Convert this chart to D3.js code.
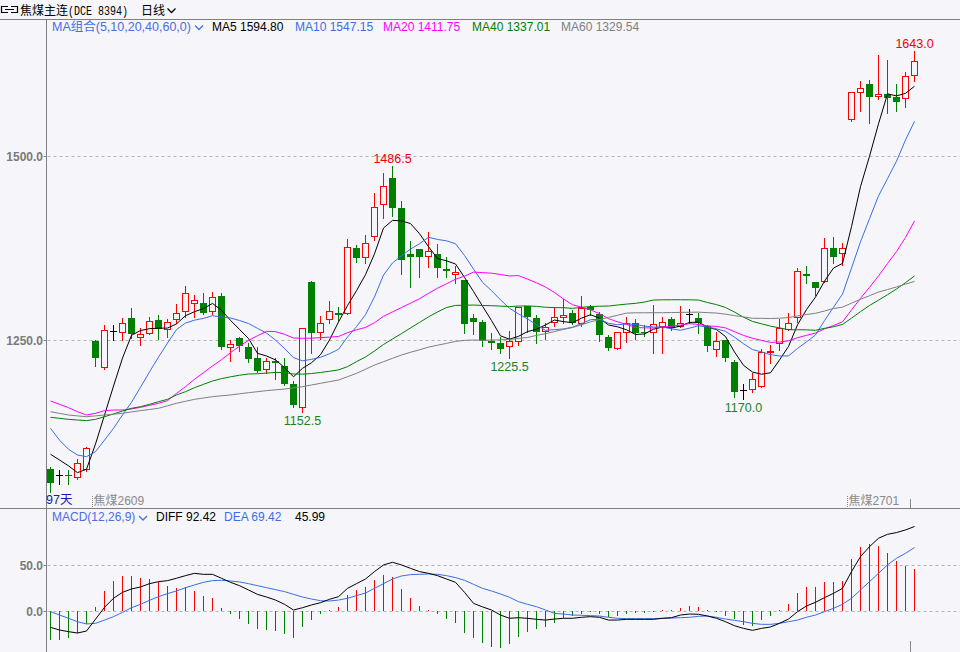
<!DOCTYPE html>
<html>
<head>
<meta charset="utf-8">
<script src="https://cdn.jsdelivr.net/npm/d3@7"></script>
<style>
  html, body { margin: 0; padding: 0; background: #f5f5fa; }
  svg { display: block; font-family: "Liberation Sans", Arial, "Noto Sans CJK SC", sans-serif; }
</style>
</head>
<body>
<div class="canvas"></div>
<script>
// daily bars, oldest first
const opens = [1074.3,1066.6,1066.6,1064.3,1074.3,1248.7,1213.8,1262.2,1260.4,1279.4,
  1254.5,1259.1,1276.7,1265.0,1279.0,1289.9,1300.7,1299.8,1289.9,1309.8,
  1240.9,1252.3,1240.0,1225.1,1210.1,1221.5,1214.7,1190.2,1159.4,1329.3,
  1260.4,1278.1,1286.7,1287.1,1374.5,1362.3,1391.3,1434.3,1469.7,1428.9,
  1366.8,1373.6,1364.6,1366.8,1346.5,1339.2,1331.5,1279.4,1274.9,1248.7,
  1245.5,1241.9,1248.7,1296.2,1280.4,1262.2,1274.9,1280.8,1287.1,1272.7,
  1295.3,1285.3,1253.6,1238.7,1260.4,1272.7,1261.3,1261.3,1269.5,1278.1,
  1269.5,1284.8,1279.4,1269.0,1237.3,1250.0,1220.5,1182.0,1182.9,1187.5,
  1234.0,1245.5,1264.5,1280.8,1339.2,1329.3,1330.2,1374.6,1367.8,1549.8,
  1586.5,1597.8,1581.5,1583.8,1580.6,1578.4,1610.1];
const highs = [1077.0,1074.0,1073.0,1087.9,1104.0,1250.0,1270.4,1270.4,1279.4,1293.0,
  1265.9,1280.8,1284.0,1278.1,1298.9,1323.4,1311.1,1313.4,1314.8,1313.4,
  1250.0,1254.5,1245.5,1240.0,1225.1,1225.1,1225.1,1194.8,1265.9,1330.6,
  1282.6,1303.0,1295.3,1386.8,1379.1,1392.6,1450.2,1476.4,1486.5,1439.3,
  1384.5,1373.6,1397.2,1380.4,1362.3,1350.5,1331.5,1285.3,1277.0,1259.1,
  1253.6,1262.2,1294.4,1296.2,1284.0,1273.6,1294.4,1305.3,1290.8,1309.8,
  1297.6,1288.5,1256.8,1261.3,1280.8,1278.1,1270.0,1297.5,1281.7,1281.7,
  1296.2,1291.6,1286.2,1270.4,1261.3,1250.0,1222.8,1190.2,1204.7,1237.8,
  1243.2,1278.1,1286.2,1347.4,1350.5,1329.3,1388.1,1390.4,1381.3,1587.4,
  1601.9,1603.3,1637.2,1630.4,1597.8,1614.6,1643.0];
const lows = [1043.5,1054.0,1054.0,1060.7,1072.0,1214.7,1210.1,1250.0,1250.0,1252.3,
  1243.2,1258.0,1251.4,1253.6,1272.7,1280.8,1280.8,1285.3,1285.3,1237.3,
  1221.9,1235.5,1220.6,1207.0,1204.7,1196.6,1188.9,1159.4,1152.5,1232.8,
  1250.9,1272.6,1277.2,1285.3,1356.4,1355.1,1385.9,1415.3,1418.5,1339.7,
  1322.5,1336.0,1348.7,1336.0,1335.1,1327.0,1259.1,1257.7,1241.9,1237.3,
  1232.8,1225.5,1243.2,1261.3,1245.5,1251.4,1269.0,1273.6,1271.7,1269.0,
  1284.0,1249.1,1236.4,1237.3,1247.7,1250.9,1256.0,1232.8,1232.8,1263.6,
  1268.1,1272.6,1260.0,1235.5,1228.2,1221.9,1173.0,1170.0,1180.0,1185.7,
  1219.2,1236.4,1263.6,1274.9,1327.0,1311.1,1329.3,1354.2,1351.9,1548.0,
  1561.2,1545.3,1577.0,1558.0,1561.2,1567.0,1602.4];
const closes = [1055.3,1066.6,1065.0,1082.4,1102.8,1226.0,1263.6,1262.2,1272.7,1257.7,
  1258.2,1276.3,1265.0,1274.0,1286.2,1313.4,1303.9,1286.2,1308.9,1240.0,
  1244.6,1242.3,1224.2,1208.3,1221.9,1218.3,1189.8,1161.7,1265.9,1260.0,
  1272.6,1289.8,1284.4,1376.8,1361.9,1381.3,1431.2,1459.2,1428.9,1358.7,
  1363.2,1362.3,1370.9,1348.3,1343.3,1341.9,1271.3,1274.9,1248.7,1245.5,
  1237.8,1248.7,1294.4,1280.8,1261.3,1267.2,1281.7,1284.0,1272.7,1293.0,
  1290.8,1256.8,1238.7,1260.4,1272.7,1259.1,1260.0,1271.3,1274.9,1265.8,
  1272.6,1284.8,1272.6,1242.3,1248.6,1225.1,1179.8,1182.0,1196.5,1234.1,
  1235.0,1266.8,1273.5,1343.8,1337.4,1320.2,1374.6,1363.2,1374.6,1587.4,
  1592.0,1580.6,1583.8,1578.4,1573.8,1608.7,1629.0];

// moving averages as drawn
const ma5 = [1094.7,1087.0,1079.0,1069.8,1074.4,1108.6,1148.0,1187.4,1225.5,1256.4,
  1262.9,1265.4,1266.0,1266.2,1271.9,1283.0,1288.5,1292.7,1299.7,1290.5,
  1276.7,1264.4,1252.0,1231.9,1228.3,1223.0,1212.5,1200.0,1211.5,1219.1,
  1230.0,1250.0,1274.5,1296.7,1317.1,1338.8,1367.1,1402.1,1412.5,1411.9,
  1408.2,1394.5,1376.8,1360.7,1357.6,1353.3,1335.1,1315.9,1296.0,1276.5,
  1255.6,1251.1,1255.0,1261.4,1264.6,1270.5,1277.1,1275.0,1273.4,1279.7,
  1284.4,1279.5,1270.4,1267.9,1263.9,1257.5,1258.2,1264.7,1267.6,1266.2,
  1268.9,1273.9,1274.1,1267.6,1264.2,1254.7,1233.7,1215.6,1206.4,1203.5,
  1205.5,1222.9,1241.2,1270.6,1291.3,1308.3,1329.9,1347.8,1354.0,1404.0,
  1458.4,1499.6,1543.7,1584.4,1581.7,1585.1,1594.8];
const ma10 = [1130.0,1114.0,1101.5,1093.7,1091.5,1098.3,1114.0,1130.0,1148.1,1165.4,
  1185.8,1206.7,1226.7,1245.9,1264.2,1273.0,1277.0,1279.4,1283.0,1281.2,
  1279.9,1276.5,1272.4,1265.8,1259.4,1249.9,1238.5,1226.0,1221.7,1223.7,
  1226.5,1231.3,1237.3,1254.1,1268.1,1284.4,1308.6,1338.3,1354.6,1364.5,
  1373.5,1380.8,1389.5,1386.6,1384.8,1380.8,1364.8,1346.4,1328.4,1317.1,
  1304.5,1293.1,1285.5,1278.7,1270.6,1263.1,1264.1,1265.0,1267.4,1272.2,
  1277.5,1278.3,1272.7,1270.7,1271.8,1271.0,1268.9,1267.6,1267.8,1265.1,
  1263.2,1266.1,1269.4,1267.6,1265.2,1261.8,1253.8,1244.9,1237.0,1233.9,
  1230.1,1228.3,1228.4,1238.5,1247.4,1256.9,1276.4,1294.5,1312.3,1347.7,
  1383.4,1414.8,1445.8,1469.2,1492.9,1521.8,1547.15];
const ma20 = [1167.1,1162.6,1158.1,1152.6,1148.1,1150.4,1154.0,1154.9,1154.9,1156.3,
  1158.5,1161.2,1164.0,1167.6,1177.5,1186.6,1196.6,1205.6,1214.7,1223.3,
  1232.8,1241.6,1249.5,1255.8,1261.8,1261.4,1257.7,1252.7,1252.3,1252.5,
  1253.2,1253.9,1254.8,1260.0,1263.8,1267.1,1273.5,1282.2,1288.2,1294.1,
  1300.0,1306.0,1313.4,1320.4,1326.4,1332.6,1336.7,1342.3,1341.5,1340.8,
  1339.0,1337.0,1337.5,1332.7,1327.7,1321.9,1314.5,1305.7,1297.9,1294.6,
  1291.0,1285.7,1279.1,1274.7,1271.2,1267.0,1266.5,1266.3,1267.6,1268.6,
  1270.3,1272.2,1271.1,1269.1,1268.5,1266.4,1261.3,1256.2,1252.4,1249.5,
  1246.7,1247.2,1248.9,1253.1,1256.3,1259.4,1265.1,1269.7,1274.7,1290.8,
  1306.7,1321.5,1337.1,1353.9,1370.1,1389.3,1411.75];
const ma40 = [1144.9,1143.6,1142.2,1141.3,1140.4,1142.2,1145.8,1149.5,1153.5,1157.2,
  1159.4,1162.6,1166.2,1169.4,1175.3,1179.8,1185.2,1189.8,1194.3,1197.5,
  1200.0,1202.1,1203.8,1204.2,1205.0,1205.9,1205.9,1203.8,1203.6,1204.4,
  1205.9,1207.5,1209.4,1213.8,1220.6,1226.9,1235.1,1243.9,1251.4,1258.7,
  1266.4,1273.8,1281.4,1288.1,1294.1,1297.0,1297.2,1297.5,1296.9,1296.6,
  1296.1,1295.4,1296.1,1296.3,1295.7,1294.5,1294.0,1293.9,1293.0,1294.4,
  1295.5,1295.9,1296.2,1297.5,1298.8,1299.8,1301.6,1304.3,1304.6,1304.7,
  1304.7,1304.6,1304.3,1300.9,1298.1,1294.2,1287.9,1281.0,1275.2,1272.0,
  1268.8,1266.5,1264.0,1263.9,1263.8,1263.2,1265.8,1268.0,1271.1,1279.7,
  1288.5,1296.9,1304.1,1311.5,1319.3,1327.9,1337.01];
const ma60 = [1152.6,1150.3,1148.1,1146.9,1145.8,1146.9,1148.1,1149.2,1150.4,1152.2,
  1154.0,1155.6,1157.2,1160.6,1164.0,1166.7,1169.4,1171.2,1173.0,1174.2,
  1175.3,1176.9,1178.4,1179.8,1181.2,1182.3,1183.4,1185.0,1186.6,1188.9,
  1191.1,1193.4,1195.6,1200.1,1204.7,1210.3,1216.0,1220.5,1225.1,1229.6,
  1233.3,1236.7,1240.3,1242.9,1245.4,1248.1,1249.5,1250.0,1249.6,1249.9,
  1250.2,1250.7,1252.1,1253.4,1256.3,1258.5,1261.5,1264.5,1266.9,1270.7,
  1274.6,1277.8,1280.7,1283.6,1286.5,1287.0,1287.0,1287.1,1287.1,1287.3,
  1287.5,1287.7,1287.8,1287.2,1286.6,1285.1,1283.1,1281.4,1279.5,1279.4,
  1279.2,1279.6,1280.5,1282.7,1284.6,1286.3,1289.4,1292.8,1294.6,1300.1,
  1305.3,1310.2,1315.2,1318.5,1322.1,1325.9,1329.54];

// MACD(12,26,9)
const diff = [-17.9,-20.8,-22.6,-24.1,-21.9,-9.0,4.0,13.9,20.4,24.1,
  26.3,29.9,32.1,33.2,35.8,38.7,41.2,40.1,40.1,35.8,
  31.4,27.7,23.0,18.2,15.3,12.0,7.3,1.1,3.6,6.6,
  9.1,12.8,15.7,24.8,29.9,35.0,43.1,50.4,53.3,50.4,
  46.7,43.1,41.2,38.7,35.0,31.4,20.4,8.4,4.5,1.1,
  -4.4,-8.0,-7.3,-8.0,-9.1,-9.9,-8.8,-8.0,-8.0,-6.9,
  -6.2,-6.9,-9.9,-9.9,-9.1,-9.1,-9.1,-9.1,-8.0,-7.3,
  -4.4,-3.3,-3.6,-5.5,-8.0,-11.7,-16.1,-19.0,-21.2,-19.0,
  -17.5,-13.5,-8.8,-0.7,5.5,9.5,14.6,19.3,24.8,43.1,
  59.5,70.4,79.6,83.9,85.8,88.7,92.42];
const dea = [-0.7,-4.4,-8.0,-11.7,-14.2,-13.5,-9.9,-6.2,-1.5,3.6,
  7.3,11.7,15.7,19.0,21.9,25.5,28.5,31.4,33.2,33.6,
  32.8,31.8,29.9,27.7,25.5,23.4,21.2,18.2,15.3,13.1,
  11.3,10.9,12.0,13.9,16.8,19.7,24.8,29.9,35.0,38.3,
  39.8,40.1,40.5,40.1,38.7,36.5,33.6,29.2,24.8,21.9,
  18.6,15.0,10.2,7.3,4.7,1.1,-2.6,-3.3,-4.4,-4.7,
  -5.1,-5.5,-6.9,-8.0,-8.4,-8.4,-8.4,-8.4,-8.0,-7.7,
  -7.3,-6.9,-5.8,-5.5,-6.9,-8.8,-10.2,-11.7,-13.5,-14.6,
  -14.6,-13.5,-11.7,-9.9,-6.9,-4.4,-0.7,2.9,7.3,13.9,
  23.0,32.1,41.2,50.4,57.7,63.1,69.42];
const macd = [-31.8,-31.8,-29.2,-24.5,-14.6,4.7,21.9,32.8,38.7,38.7,
  36.5,35.0,32.1,27.4,25.2,25.9,21.9,16.8,14.2,3.3,
  -2.9,-8.8,-14.2,-19.7,-20.8,-21.9,-24.8,-29.2,-17.5,-9.9,
  -2.9,0.7,4.4,17.5,23.0,26.6,33.9,39.4,37.6,24.1,
  14.2,5.8,1.1,-3.6,-9.1,-12.8,-24.5,-29.9,-35.4,-39.1,
  -40.1,-36.5,-28.1,-22.6,-20.1,-17.2,-12.8,-7.3,-5.5,-3.6,
  -1.5,-2.9,-6.6,-5.5,-2.9,-1.8,-1.8,-0.7,1.5,1.5,
  3.3,5.8,4.7,0.7,-1.1,-5.5,-9.1,-15.3,-16.1,-9.9,
  -5.1,1.5,8.0,20.1,26.6,26.6,32.1,32.1,32.8,56.9,
  70.1,73.4,71.2,63.5,54.7,49.3,45.99];

const priceTicks = [1250, 1500];
const macdTicks = [0, 50];
const highMarks = [38, 96];
const lowMarks = [28, 51, 77];
const maLines = [ma5, ma10, ma20, ma40, ma60];
const maNames = ['MA5', 'MA10', 'MA20', 'MA40', 'MA60'];
const maLast = ['1594.80', '1547.15', '1411.75', '1337.01', '1329.54'];

const width = 960, height = 652, plotL = 46.5;
const bg = '#f5f5fa', up = '#ff0000', down = '#008000', axisCol = '#808080';
const maColors = ['#000000', '#3a6ee8', '#ff00ff', '#008000', '#808080'];
const headerX = [212, 295, 383, 472, 561];

const svg = d3.select('.canvas')
    .append('svg')
    .attr('width', width)
    .attr('height', height)
    ;
svg.append('rect').attr('width', width).attr('height', height).attr('fill', bg);

const xScale = d3.scaleLinear().domain([0, closes.length - 1]).range([50, 914]);
const yScale = d3.scaleLinear().domain([1250, 1500]).range([340, 156]);
const mScale = d3.scaleLinear().domain([0, 50]).range([611, 565.3]);
const idx = d3.range(closes.length);
const cx = (i) => Math.round(xScale(i));

//Top bar
svg.append('path')
    .attr('d', 'M8,6.5H1.5V12.5H8 M11,6.5H17.5V12.5H11 M5,9.5H14')
    .attr('fill', 'none').attr('stroke', '#000').attr('stroke-width', 1.2);
svg.append('text').attr('x', 20).attr('y', 15).attr('font-size', 12).text('焦煤主连');
svg.append('text').attr('x', 68).attr('y', 15).attr('font-size', 12)
    .attr('font-family', '"Liberation Mono", monospace')
    .attr('textLength', 60).attr('lengthAdjust', 'spacingAndGlyphs').text('(DCE 8394)');
svg.append('text').attr('x', 141).attr('y', 15).attr('font-size', 12).text('日线');
svg.append('path').attr('d', 'M167.5,8.5L171.5,12.5L175.5,8.5')
    .attr('fill', 'none').attr('stroke', '#000').attr('stroke-width', 1.3);

svg.append('line').attr('x1', 0).attr('x2', width).attr('y1', 19.5).attr('y2', 19.5)
    .attr('stroke', axisCol);
svg.append('line').attr('x1', 0).attr('x2', width).attr('y1', 508.5).attr('y2', 508.5)
    .attr('stroke', axisCol);
svg.append('line').attr('x1', plotL).attr('x2', plotL).attr('y1', 19.5).attr('y2', height)
    .attr('stroke', axisCol);

//Grid and y labels
const grid = svg.append('g');
const addTicks = (ticks, scale) => ticks.forEach(t => {
    const y = Math.round(scale(t)) + 0.5;
    grid.append('line').attr('x1', plotL + 1).attr('x2', width).attr('y1', y).attr('y2', y)
        .attr('stroke', '#b4b4b4').attr('stroke-dasharray', '3,3');
    grid.append('line').attr('x1', plotL - 3).attr('x2', plotL).attr('y1', y).attr('y2', y)
        .attr('stroke', axisCol);
    grid.append('text').attr('x', 43).attr('y', y + 4).attr('text-anchor', 'end')
        .attr('font-size', 12).attr('font-weight', 'bold').attr('fill', '#7a7a7a')
        .text(t.toFixed(1));
});
addTicks(priceTicks, yScale);
addTicks(macdTicks, mScale);

//Candles
const colorOf = (i) => closes[i] > opens[i] ? up : (closes[i] < opens[i] ? down : '#000');
const candles = svg.append('g').attr('shape-rendering', 'crispEdges');
candles.selectAll('line.wick')
    .data(idx)
    .join('line')
    .attr('class', 'wick')
    .attr('x1', i => cx(i) + 0.5)
    .attr('x2', i => cx(i) + 0.5)
    .attr('y1', i => Math.round(yScale(highs[i])))
    .attr('y2', i => Math.round(yScale(lows[i])) + 1)
    .attr('stroke', colorOf)
    ;
candles.selectAll('rect.up')
    .data(idx.filter(i => closes[i] > opens[i]))
    .join('rect')
    .attr('class', 'up')
    .attr('x', i => cx(i) - 2.5)
    .attr('y', i => Math.round(yScale(closes[i])) + 0.5)
    .attr('width', 6)
    .attr('height', i => Math.max(Math.round(yScale(opens[i])) - Math.round(yScale(closes[i])), 1))
    .attr('fill', bg)
    .attr('stroke', up)
    ;
candles.selectAll('rect.down')
    .data(idx.filter(i => closes[i] < opens[i]))
    .join('rect')
    .attr('class', 'down')
    .attr('x', i => cx(i) - 3)
    .attr('y', i => Math.round(yScale(opens[i])))
    .attr('width', 7)
    .attr('height', i => Math.max(Math.round(yScale(closes[i])) - Math.round(yScale(opens[i])), 1))
    .attr('fill', down)
    ;
candles.selectAll('line.doji')
    .data(idx.filter(i => closes[i] === opens[i]))
    .join('line')
    .attr('class', 'doji')
    .attr('x1', i => cx(i) - 3)
    .attr('x2', i => cx(i) + 4)
    .attr('y1', i => Math.round(yScale(closes[i])) + 0.5)
    .attr('y2', i => Math.round(yScale(closes[i])) + 0.5)
    .attr('stroke', '#000')
    ;

//Moving averages
const maLine = d3.line().x((d, i) => xScale(i) + 0.5).y(d => yScale(d));
svg.append('g').selectAll('path')
    .data(maLines)
    .join('path')
    .attr('d', maLine)
    .attr('fill', 'none')
    .attr('stroke', (d, k) => maColors[k])
    .attr('stroke-width', 1)
    ;

//High / low marks
svg.selectAll('text.high')
    .data(highMarks)
    .join('text')
    .attr('class', 'high')
    .attr('x', i => cx(i) + 0.5)
    .attr('y', i => yScale(highs[i]) - 3)
    .attr('text-anchor', 'middle')
    .attr('font-size', 12.5)
    .attr('fill', '#f00000')
    .text(i => highs[i].toFixed(1));
svg.selectAll('text.low')
    .data(lowMarks)
    .join('text')
    .attr('class', 'low')
    .attr('x', i => cx(i) + 0.5)
    .attr('y', i => yScale(lows[i]) + 13)
    .attr('text-anchor', 'middle')
    .attr('font-size', 12.5)
    .attr('fill', '#1c841c')
    .text(i => lows[i].toFixed(1));

//Main panel header
svg.append('text').attr('x', 52).attr('y', 31).attr('font-size', 12.5).attr('fill', '#4a6ee0')
    .text('MA组合(5,10,20,40,60,0)');
svg.append('path').attr('d', 'M195,25.5L199,29.5L203,25.5')
    .attr('fill', 'none').attr('stroke', '#4a6ee0').attr('stroke-width', 1.3);
svg.selectAll('text.mahead')
    .data(maNames)
    .join('text')
    .attr('class', 'mahead')
    .attr('x', (d, k) => headerX[k])
    .attr('y', 31)
    .attr('font-size', 12)
    .attr('fill', (d, k) => maColors[k])
    .text((d, k) => `${d} ${maLast[k]}`);

//Bottom labels of main panel
svg.append('text').attr('x', 46).attr('y', 504).attr('font-size', 12.5).attr('fill', '#1a1aa8').text('97天');
[[92.5, '焦煤2609'], [847.5, '焦煤2701']].forEach(([x, t]) => {
    svg.append('line').attr('x1', x).attr('x2', x).attr('y1', 496).attr('y2', 508)
        .attr('stroke', '#888').attr('stroke-dasharray', '1,1');
    svg.append('text').attr('x', x + 1).attr('y', 505).attr('font-size', 12).attr('fill', '#8a8a8a').text(t);
});
svg.append('line').attr('x1', 910.5).attr('x2', 910.5).attr('y1', 499).attr('y2', 508)
    .attr('stroke', '#888');
svg.append('line').attr('x1', 910.5).attr('x2', 910.5).attr('y1', 641).attr('y2', height)
    .attr('stroke', '#888');

//MACD panel
svg.append('g').attr('shape-rendering', 'crispEdges')
    .selectAll('line')
    .data(idx)
    .join('line')
    .attr('x1', i => cx(i) + 0.5)
    .attr('x2', i => cx(i) + 0.5)
    .attr('y1', mScale(0))
    .attr('y2', i => mScale(macd[i]))
    .attr('stroke', i => macd[i] >= 0 ? up : down)
    .attr('stroke-width', 1.4)
    ;
const mLine = d3.line().x((d, i) => xScale(i) + 0.5).y(d => mScale(d));
svg.append('path').attr('d', mLine(dea)).attr('fill', 'none').attr('stroke', '#3a6ee8');
svg.append('path').attr('d', mLine(diff)).attr('fill', 'none').attr('stroke', '#000');

svg.append('text').attr('x', 52).attr('y', 521).attr('font-size', 12).attr('fill', '#4a6ee0')
    .text('MACD(12,26,9)');
svg.append('path').attr('d', 'M139,516L143,520L147,516')
    .attr('fill', 'none').attr('stroke', '#4a6ee0').attr('stroke-width', 1.3);
svg.append('text').attr('x', 156).attr('y', 521).attr('font-size', 12).attr('fill', '#000')
    .text(`DIFF ${diff[diff.length - 1].toFixed(2)}`);
svg.append('text').attr('x', 224).attr('y', 521).attr('font-size', 12).attr('fill', '#3a6ee8')
    .text(`DEA ${dea[dea.length - 1].toFixed(2)}`);
svg.append('text').attr('x', 295).attr('y', 521).attr('font-size', 12).attr('fill', '#000')
    .text(macd[macd.length - 1].toFixed(2));
</script>
</body>
</html>
